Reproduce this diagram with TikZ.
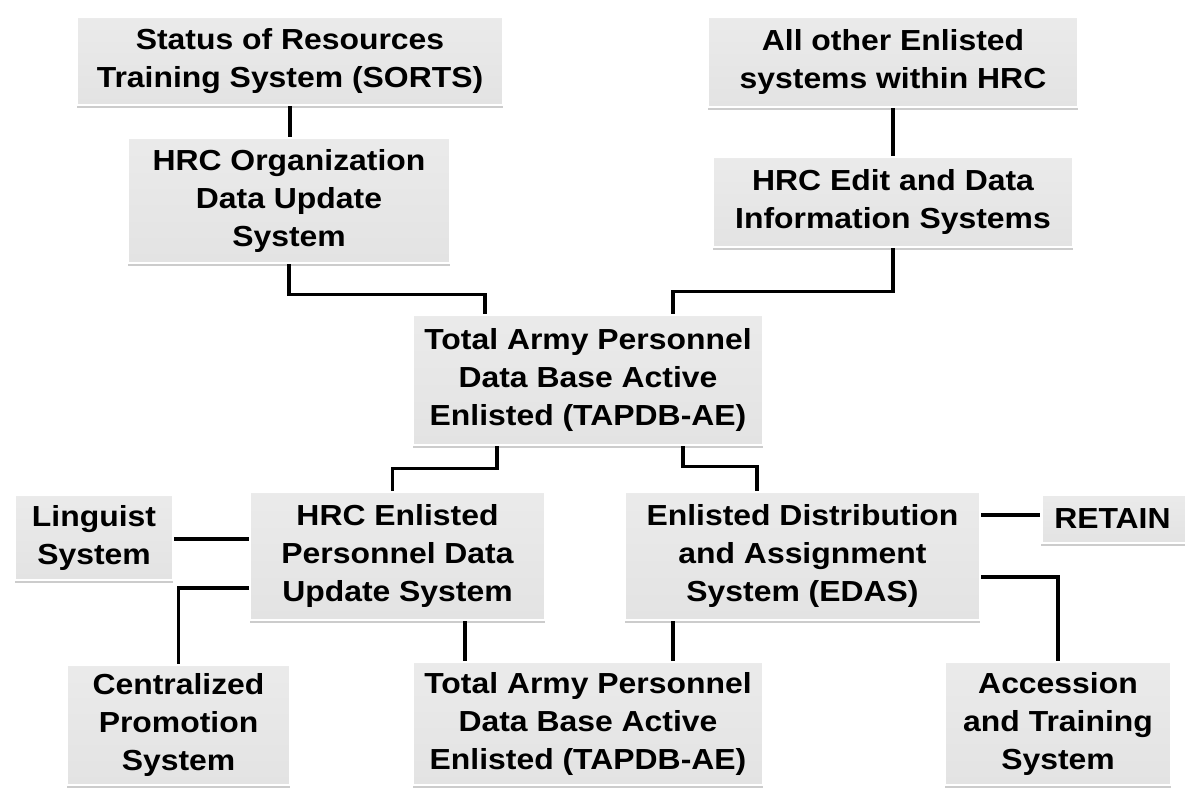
\documentclass[tikz,border=0pt]{standalone}
\usepackage{fontspec}
\setmainfont{Liberation Sans}[FakeStretch=1.1]
\usetikzlibrary{shadows,calc}
\begin{document}
\begin{tikzpicture}[x=1pt,y=-1pt,
  sysbox/.style={rectangle, inner sep=0pt, align=center,
    top color=gray!16, bottom color=gray!22, draw=white, line width=2.5pt,
    drop shadow={shadow xshift=0pt, shadow yshift=-3pt, opacity=0.4, fill=gray},
    font=\fontsize{29pt}{38pt}\selectfont\bfseries},
  conn/.style={draw=black, line width=3.5pt}]
\useasboundingbox[fill=white] (0,0) rectangle (1185,790);

\node[sysbox, minimum width=426pt, minimum height=88pt] (sorts) at (290,61)
  {Status of Resources\\Training System (SORTS)};
\node[sysbox, minimum width=322pt, minimum height=125pt] (org) at (289,200.5)
  {HRC Organization\\Data Update\\System};
\node[sysbox, minimum width=370pt, minimum height=90pt] (allother) at (893,62)
  {All other Enlisted\\systems within HRC};
\node[sysbox, minimum width=360pt, minimum height=90pt] (edit) at (893,202)
  {HRC Edit and Data\\Information Systems};
\node[sysbox, minimum width=350pt, minimum height=130pt] (tapdb) at (588,380)
  {Total Army Personnel\\Data Base Active\\Enlisted (TAPDB-AE)};
\node[sysbox, minimum width=158pt, minimum height=85pt] (ling) at (94,537.5)
  {Linguist\\System};
\node[sysbox, minimum width=295pt, minimum height=128pt] (hrcen) at (397.5,556)
  {HRC Enlisted\\Personnel Data\\Update System};
\node[sysbox, minimum width=355pt, minimum height=128pt] (edas) at (802.5,556)
  {Enlisted Distribution\\and Assignment\\System (EDAS)};
\node[sysbox, anchor=west, minimum height=48pt, text width=143pt, align=left, inner xsep=13pt] (retain) at (1040,519)
  {RETAIN};
\node[sysbox, minimum width=223pt, minimum height=120pt] (cent) at (178.5,725)
  {Centralized\\Promotion\\System};
\node[sysbox, minimum width=350pt, minimum height=123pt] (tapdb2) at (588,723.5)
  {Total Army Personnel\\Data Base Active\\Enlisted (TAPDB-AE)};
\node[sysbox, minimum width=226pt, minimum height=123pt] (acc) at (1058,723.5)
  {Accession\\and Training\\System};

\draw[conn] (sorts.south) -- (sorts.south |- org.north);
\draw[conn] (org.south) -- ++(0,30) -| ([xshift=-103pt]tapdb.north);
\draw[conn] (allother.south) -- (allother.south |- edit.north);
\draw[conn] (edit.south) -- ++(0,43) -| ([xshift=85pt]tapdb.north);
\draw[conn] ([xshift=-91pt]tapdb.south) -- ++(0,22) -| ([xshift=-5pt]hrcen.north);
\draw[conn] ([xshift=95pt]tapdb.south) -- ++(0,20) -| ([xshift=-45.5pt]edas.north);
\draw[conn] ([yshift=-1.5pt]ling.east) -- ([yshift=-1.5pt]ling.east -| hrcen.west);
\draw[conn] ([yshift=-32pt]hrcen.west) -| (cent.north);
\draw[conn] ([xshift=67.5pt]hrcen.south) -- ([xshift=67.5pt]hrcen.south |- tapdb2.north);
\draw[conn] ([xshift=-129.5pt]edas.south) -- ([xshift=-129.5pt]edas.south |- tapdb2.north);
\draw[conn] ([yshift=41pt]edas.east) -- ([yshift=41pt]edas.east -| retain.west);
\draw[conn] ([yshift=-21pt]edas.east) -| (acc.north);
\end{tikzpicture}
\end{document}
